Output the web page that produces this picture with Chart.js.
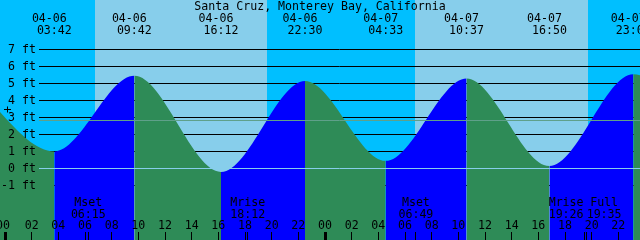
<!DOCTYPE html>
<html>
<head>
<meta charset="utf-8">
<script src="https://cdn.jsdelivr.net/npm/chart.js@4"></script>
<style>
  body { margin: 0; background: #fff; }
  canvas { display: block; }
</style>
</head>
<body>
<canvas id="tide-chart" width="640" height="240"></canvas>
<script>
const title = "Santa Cruz, Monterey Bay, California";

// tide highs and lows (first and last one are off screen)
const tideTimes = ["04-05 21:24", "04-06 03:42", "04-06 09:42", "04-06 16:12", "04-06 22:30",
  "04-07 04:33", "04-07 10:37", "04-07 16:50", "04-07 23:07", "04-08 05:20"];
const tideHeights = [5.1, 1.0, 5.45, -0.2, 5.15, 0.45, 5.3, 0.15, 5.55, 0.5];

// sunrise / sunset pairs
const sunRise = ["04-06 06:43", "04-07 06:46"];
const sunSet = ["04-06 19:37", "04-07 19:44"];

// moon events
const moonNames = ["Mset", "Mrise", "Mset", "Mrise", "Full"];
const moonTimes = ["04-06 06:15", "04-06 18:12", "04-07 06:49", "04-07 19:26", "04-07 19:35"];

const hourTicks = [0, 2, 4, 6, 8, 10, 12, 14, 16, 18, 20, 22, 24, 26, 28, 30, 32, 34, 36, 38, 40, 42, 44, 46];
const heightTicks = [7, 6, 5, 4, 3, 2, 1, 0, -1];
const meanLevel = 2.82;
const nowTime = "04-06 00:09";
const nowHeight = 3.5;

const NIGHT = "#00bfff", DAY = "#87ceeb", RISE = "#0000ff", FALL = "#2e8b57";
const FONT = "11.6px 'DejaVu Sans Mono'";

// "04-06 03:42" -> hours from 04-06 00:00
function toHours(s) {
  const [date, time] = s.split(" ");
  const day = Number(date.split("-")[1]);
  const [hh, mm] = time.split(":").map(Number);
  return (day - 6) * 24 + hh + mm / 60;
}

function crisp(v) {
  return Math.floor(v) + 0.5;
}

const tidePlugin = {
  id: "tideDecor",
  beforeDraw(chart) {
    const { ctx, chartArea: a, scales: { x, y } } = chart;
    ctx.save();
    // night background, then day bands
    ctx.fillStyle = NIGHT;
    ctx.fillRect(a.left, a.top, a.right - a.left, a.bottom - a.top);
    ctx.fillStyle = DAY;
    sunRise.forEach((r, i) => {
      const x0 = x.getPixelForValue(toHours(r));
      const x1 = x.getPixelForValue(toHours(sunSet[i]));
      ctx.fillRect(Math.round(x0), a.top, Math.round(x1) - Math.round(x0), a.bottom - a.top);
    });
    // black height lines (hidden by the water)
    ctx.strokeStyle = "#000";
    ctx.lineWidth = 1;
    heightTicks.forEach((h) => {
      if (h === 0) return;
      const py = crisp(y.getPixelForValue(h));
      ctx.beginPath();
      ctx.moveTo(39, py);
      ctx.lineTo(a.right, py);
      ctx.stroke();
    });
    ctx.restore();
  },
  afterDatasetsDraw(chart) {
    const { ctx, chartArea: a, scales: { x, y } } = chart;
    ctx.save();
    ctx.lineWidth = 1;

    // zero line and mean level line drawn over the water
    ctx.strokeStyle = DAY;
    let py = crisp(y.getPixelForValue(0));
    ctx.beginPath(); ctx.moveTo(39, py); ctx.lineTo(a.right, py); ctx.stroke();
    ctx.strokeStyle = "#5fa08a";
    py = crisp(y.getPixelForValue(meanLevel));
    ctx.beginPath(); ctx.moveTo(39, py); ctx.lineTo(a.right, py); ctx.stroke();

    ctx.font = FONT;
    ctx.fillStyle = "#000";
    ctx.textBaseline = "alphabetic";

    // title
    ctx.textAlign = "center";
    ctx.fillText(title, 320, 10);

    // height labels
    ctx.textAlign = "right";
    heightTicks.forEach((h) => {
      ctx.fillText(h + " ft", 36, Math.floor(y.getPixelForValue(h)) + 4);
    });

    // tide time labels on top
    ctx.textAlign = "center";
    tideTimes.forEach((t) => {
      const px = x.getPixelForValue(toHours(t));
      const [date, time] = t.split(" ");
      ctx.fillText(date, px - 5, 22);
      ctx.fillText(time, px, 34);
    });

    // hour labels and ticks along the bottom
    ctx.strokeStyle = "#000";
    hourTicks.forEach((h) => {
      const px = x.getPixelForValue(h);
      ctx.fillText(String(h % 24).padStart(2, "0"), h === 0 ? px - 2 : px, 229);
      if (h % 24 === 0) {
        ctx.fillRect(Math.round(px) - 1, 232, 3, 8);
      } else {
        ctx.beginPath();
        ctx.moveTo(crisp(px), 232);
        ctx.lineTo(crisp(px), 240);
        ctx.stroke();
      }
    });

    // moon events, nudged apart when they overlap
    const moonX = moonTimes.map((t) => x.getPixelForValue(toHours(t)));
    const labelX = moonX.slice();
    const minGap = 38;
    for (let i = 1; i < labelX.length; i++) {
      const gap = labelX[i] - labelX[i - 1];
      if (gap < minGap) {
        const push = (minGap - gap) / 2;
        labelX[i - 1] -= push;
        labelX[i] += push;
      }
    }
    moonNames.forEach((name, i) => {
      const time = moonTimes[i].split(" ")[1];
      ctx.fillText(name, labelX[i], 206);
      ctx.fillText(time, labelX[i], 218);
      ctx.beginPath();
      ctx.moveTo(crisp(moonX[i]), 232);
      ctx.lineTo(crisp(moonX[i]), 240);
      ctx.stroke();
    });

    // current time marker
    const nx = crisp(x.getPixelForValue(toHours(nowTime)));
    const ny = crisp(y.getPixelForValue(nowHeight));
    ctx.beginPath();
    ctx.moveTo(nx - 3.5, ny); ctx.lineTo(nx + 3.5, ny);
    ctx.moveTo(nx, ny - 3); ctx.lineTo(nx, ny + 3);
    ctx.stroke();

    ctx.restore();
  }
};

const ctx = document.getElementById("tide-chart").getContext("2d");
window.tideChart = new Chart(ctx, {
  type: "line",
  data: {
    datasets: [{
      data: tideTimes.map((t, i) => ({ x: toHours(t), y: tideHeights[i] })),
      fill: "start",
      backgroundColor: FALL,
      borderColor: "rgba(0,0,0,0)",
      borderWidth: 0,
      pointRadius: 0,
      cubicInterpolationMode: "monotone",
      segment: {
        backgroundColor: (c) => (c.p1.parsed.y > c.p0.parsed.y ? RISE : FALL),
      },
    }],
  },
  options: {
    responsive: false,
    animation: false,
    events: [],
    layout: { padding: 0 },
    plugins: {
      legend: { display: false },
      tooltip: { enabled: false },
    },
    scales: {
      x: { type: "linear", display: false, min: -0.375, max: 47.625 },
      y: { display: false, min: -4.206, max: 9.912 },
    },
  },
  plugins: [tidePlugin],
});
</script>
</body>
</html>
